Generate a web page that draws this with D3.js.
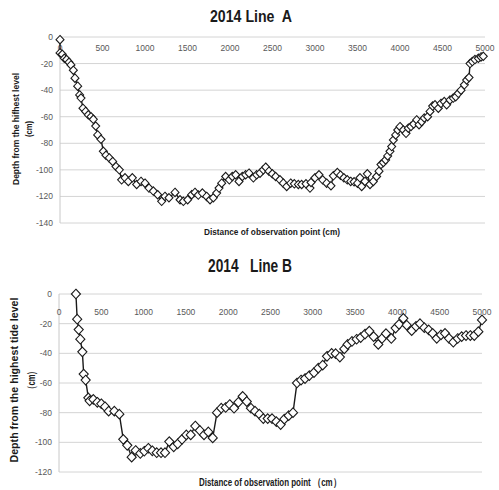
<!DOCTYPE html>
<html>
<head>
<meta charset="utf-8">
<title>2014 Line A / Line B</title>
<script src="https://d3js.org/d3.v7.min.js"></script>
<style>
  body { margin: 0; background: #fff; }
  text { font-family: "Liberation Sans", Arial, sans-serif; }
</style>
</head>
<body>
<div id="chart"></div>
<script>
// ---- Line A ----
var aX = [0,0,27,51,78,106,129,157,176,208,231,247,270,302,333,365,392,420,443,482,510,541,580,620,659,698,725,765,804,851,902,953,1000,1047,1098,1149,1196,1235,1282,1353,1412,1451,1502,1549,1588,1627,1675,1725,1765,1804,1843,1871,1902,1949,1992,2027,2067,2106,2145,2184,2224,2275,2314,2353,2392,2420,2459,2498,2537,2588,2627,2667,2714,2757,2804,2843,2894,2941,2953,3000,3047,3090,3137,3188,3216,3263,3300,3340,3380,3420,3460,3500,3529,3549,3588,3616,3647,3686,3725,3753,3776,3804,3831,3855,3882,3902,3922,3949,3973,4000,4039,4071,4098,4129,4161,4196,4224,4255,4286,4325,4353,4384,4412,4451,4482,4521,4549,4588,4627,4655,4686,4718,4757,4784,4812,4824,4851,4882,4922,4953,4980];
var aY = [-2,-12,-13,-16,-17,-19,-21,-25,-31,-37,-43.6,-46,-53.6,-56,-58.6,-60,-62,-67,-73.7,-77,-86,-89,-91,-93.7,-97.5,-100,-107.5,-106,-108.7,-106,-111,-108.7,-110,-113.7,-116,-118.7,-123.7,-120,-121,-117,-122.5,-123.7,-122.5,-118.7,-117,-119,-117.5,-120,-122.5,-121,-117.5,-113.7,-110,-105,-107.5,-105,-103.7,-108.7,-105,-103.7,-102.5,-106,-103.7,-102.5,-100,-98,-101,-103,-105,-107.5,-110,-112.5,-110,-110.5,-111,-111,-110.5,-113.7,-109.5,-106,-103.7,-107.5,-110,-112,-104.5,-102,-104,-106,-107.5,-108.7,-109,-110,-106,-112.5,-108.7,-103,-111,-108.7,-105,-101,-96,-94.5,-92.5,-89.5,-86,-82.5,-77.5,-73.7,-70,-67.5,-70,-72.5,-68.6,-67.4,-65.5,-62.4,-66,-63.7,-61,-60,-56,-52,-51,-53.6,-50,-48.6,-51,-47.4,-46,-45,-42.4,-40,-36,-32.4,-30.5,-20,-18.5,-17,-16,-15,-14.5];
var aYTicks = [0,-20,-40,-60,-80,-100,-120,-140];

// ---- Line B ----
var bX = [200,215,233,252,276,292,315,347,362,406,453,500,544,587,654,713,760,807,859,906,961,1008,1056,1103,1155,1206,1253,1304,1356,1403,1454,1505,1557,1611,1665,1714,1765,1817,1868,1918,1970,2018,2069,2120,2171,2219,2269,2317,2368,2415,2467,2518,2569,2620,2663,2715,2766,2813,2861,2908,2959,3014,3065,3117,3168,3223,3270,3320,3372,3412,3463,3518,3566,3617,3668,3719,3774,3818,3865,3928,3979,4019,4070,4110,4169,4220,4267,4318,4370,4417,4465,4515,4563,4610,4661,4713,4760,4811,4862,4909,4957,5000];
var bY = [0,-17,-24,-30.5,-39,-54,-58,-70,-72,-71,-73,-74,-76,-79,-79,-81,-98,-102,-110,-105.5,-107.5,-106,-104,-105.7,-107,-107,-107,-99.5,-103,-101,-98,-95,-95,-89,-92,-95,-93,-97,-80,-77,-76.5,-74.5,-77,-73,-69,-72.5,-77,-79,-81,-84,-84,-84,-86,-88,-84.4,-82,-80,-60,-58,-57,-55,-53,-50,-48,-42,-40,-40.2,-42.5,-37,-34,-32,-30.5,-29.4,-27,-25,-28.7,-34,-30,-26.7,-30,-23,-20.5,-16.4,-21,-24.7,-21.8,-20,-22.7,-24.2,-26.5,-29.9,-27.6,-26.5,-29.9,-32.5,-30,-28.7,-28,-28,-28,-25.4,-17.5];
var bYTicks = [0,-20,-40,-60,-80,-100,-120];

var xTicks = [0,500,1000,1500,2000,2500,3000,3500,4000,4500,5000];

var svg = d3.select("#chart").append("svg")
    .attr("width", 499)
    .attr("height", 490);

// bold label squeezed to a given length (the original uses a narrow font)
function label(g, t, size, len) {
  return g.append("text")
    .attr("font-size", size)
    .attr("font-weight", "bold")
    .attr("fill", "#1a1a1a")
    .attr("text-anchor", "middle")
    .attr("textLength", len)
    .attr("lengthAdjust", "spacingAndGlyphs")
    .style("white-space", "pre")
    .text(t);
}

function drawPanel(cfg) {
  var x = d3.scaleLinear().domain([0, 5000]).range([cfg.left, cfg.right]);
  var y = d3.scaleLinear().domain([0, cfg.yMin]).range([cfg.top, cfg.bottom]);
  var g = svg.append("g");

  // gridlines
  g.selectAll(".grid").data(cfg.yTicks).enter().append("line")
    .attr("x1", cfg.left).attr("x2", cfg.right)
    .attr("y1", function(d) { return y(d); })
    .attr("y2", function(d) { return y(d); })
    .attr("stroke", "#d4d4d4").attr("stroke-width", 1);

  // vertical axis line
  g.append("line")
    .attr("x1", cfg.left).attr("x2", cfg.left)
    .attr("y1", cfg.top).attr("y2", cfg.bottom)
    .attr("stroke", "#c8c8c8").attr("stroke-width", 1);

  // y tick labels
  g.selectAll(".ylab").data(cfg.yTicks).enter().append("text")
    .attr("x", cfg.left - 7)
    .attr("y", function(d) { return y(d) + 3; })
    .attr("text-anchor", "end")
    .attr("font-size", 8.5)
    .attr("fill", "#595959")
    .text(function(d) { return d; });

  // x tick labels (below the zero line)
  g.selectAll(".xlab").data(xTicks).enter().append("text")
    .attr("x", function(d) { return x(d); })
    .attr("y", cfg.xLabY)
    .attr("text-anchor", "middle")
    .attr("font-size", 8.5)
    .attr("fill", "#595959")
    .text(function(d) { return d; });

  var pts = cfg.xs.map(function(d, i) { return [d, cfg.ys[i]]; });

  g.append("path")
    .datum(pts)
    .attr("fill", "none")
    .attr("stroke", "#1a1a1a")
    .attr("stroke-width", 1.4)
    .attr("d", d3.line().x(function(d) { return x(d[0]); }).y(function(d) { return y(d[1]); }));

  var s = cfg.mark;
  g.selectAll(".pt").data(pts).enter().append("path")
    .attr("transform", function(d) { return "translate(" + x(d[0]) + "," + y(d[1]) + ")"; })
    .attr("d", "M0," + (-s) + "L" + (s * 0.95) + ",0L0," + s + "L" + (-s * 0.95) + ",0Z")
    .attr("fill", "#fff")
    .attr("stroke", "#1a1a1a")
    .attr("stroke-width", 1.1);

  // title
  label(g, cfg.title, cfg.titleSize, cfg.titleLen)
    .attr("x", cfg.titleX).attr("y", cfg.titleY);

  // x axis title
  label(g, cfg.xTitle, cfg.xTitleSize, cfg.xTitleLen)
    .attr("x", cfg.xTitleX).attr("y", cfg.xTitleY);

  // y axis title, two lines
  cfg.yTitle.forEach(function(t, i) {
    label(g, t, cfg.yTitleSize, cfg.yTitleLen[i])
      .attr("transform", "translate(" + cfg.yTitleX[i] + "," + cfg.yTitleY + ") rotate(-90)");
  });
}

drawPanel({
  xs: aX, ys: aY, yTicks: aYTicks, yMin: -140,
  left: 60, right: 485, top: 37, bottom: 223,
  xLabY: 51, mark: 4.2,
  title: "2014 Line  A", titleX: 251, titleY: 22, titleSize: 16, titleLen: 82,
  xTitle: "Distance of observation point (cm)", xTitleX: 272, xTitleY: 235, xTitleSize: 9.5, xTitleLen: 136,
  yTitle: ["Depth from the hifhest level", "(cm)"], yTitleX: [19, 32], yTitleY: 129, yTitleSize: 9.5, yTitleLen: [112, 16]
});

drawPanel({
  xs: bX, ys: bY, yTicks: bYTicks, yMin: -120,
  left: 59, right: 482, top: 294, bottom: 472,
  xLabY: 315, mark: 4.8,
  title: "2014   Line B", titleX: 250, titleY: 272, titleSize: 18, titleLen: 84,
  xTitle: "Distance of observation point （cm）", xTitleX: 270, xTitleY: 486, xTitleSize: 10.5, xTitleLen: 142,
  yTitle: ["Depth from the highest tide level", "（cm）"], yTitleX: [18, 35], yTitleY: 380, yTitleSize: 11, yTitleLen: [165, 26]
});
</script>
</body>
</html>
